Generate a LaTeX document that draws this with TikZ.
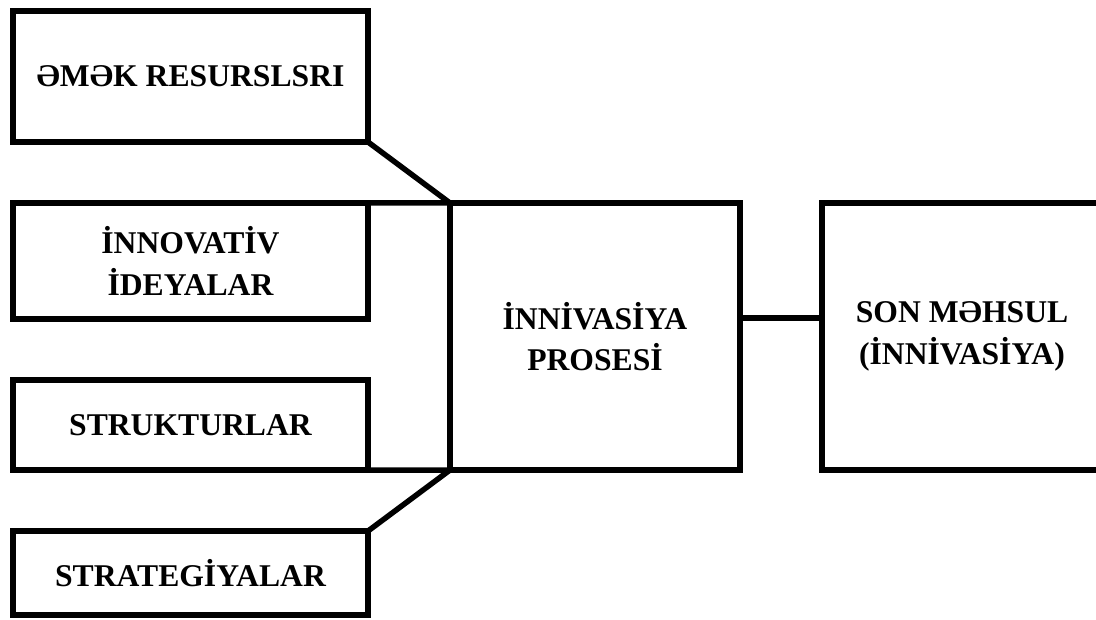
\documentclass[tikz,border=0pt]{standalone}
\usepackage{fontspec}
\setmainfont{Liberation Serif}
\usetikzlibrary{positioning}

\begin{document}
\begin{tikzpicture}[x=0.025cm,y=-0.025cm,
  box/.style={draw=black,line width=3.9pt,outer sep=0pt,inner sep=0pt,align=center,font=\fontsize{22.5}{29.5}\selectfont\bfseries},
  link/.style={draw=black,line width=3.9pt}]
\useasboundingbox (0,0) rectangle (1096,619);
\node[box,minimum width=8.875cm,minimum height=3.275cm] (emek) at (190.5,76.5) {ƏMƏK RESURSLSRI};
\node[box,minimum width=8.875cm,minimum height=2.9cm] (ideya) at (190.5,261) {İNNOVATİV\\İDEYALAR};
\node[box,minimum width=8.875cm,minimum height=2.25cm] (struk) at (190.5,425) {STRUKTURLAR};
\node[box,minimum width=8.875cm,minimum height=2.1cm] (strat) at (190.5,573) {STRATEGİYALAR};
\node[box,minimum width=7.25cm,minimum height=6.675cm] (proses) at (595,336.5) {İNNİVASİYA\\PROSESİ};
\node[box,minimum width=7cm,minimum height=6.675cm] (mehsul) at (962,336.5) {SON MƏHSUL\\(İNNİVASİYA)};
\draw[link] (emek.south east) -- (proses.north west);
\draw[link] (ideya.north east) -- (proses.north west);
\draw[link] (struk.south east) -- (proses.south west);
\draw[link] (strat.north east) -- (proses.south west);
\draw[link] ([yshift=0.46cm]proses.east) -- ([yshift=0.46cm]mehsul.west);
\end{tikzpicture}
\end{document}
